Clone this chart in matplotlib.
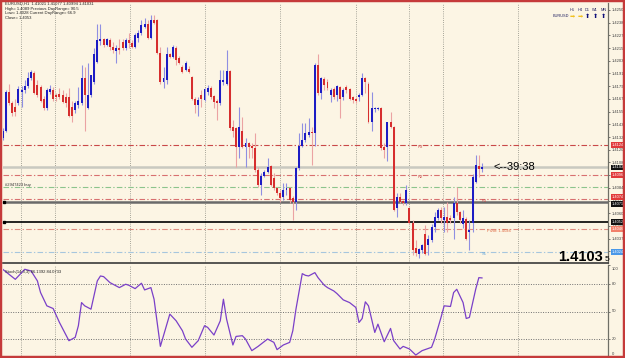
import matplotlib
matplotlib.use("Agg")
import matplotlib.pyplot as plt
from matplotlib.patches import Rectangle
import numpy as np

plt.rcParams['font.family'] = ['Liberation Sans', 'DejaVu Sans']

W, H = 625, 358
BG = '#FCF5E4'

# EURUSD H1 candles, oldest first
opens = [1.4131, 1.4138, 1.4174, 1.4164, 1.4160, 1.4164, 1.4174, 1.4176, 1.4180, 1.4187,
         1.4192, 1.4181, 1.4179, 1.4168, 1.4159, 1.4174, 1.4176, 1.4171, 1.4172, 1.4171,
         1.4169, 1.4169, 1.4160, 1.4157, 1.4162, 1.4164, 1.4187, 1.4159, 1.4171, 1.4183,
         1.4202, 1.4222, 1.4224, 1.4218, 1.4223, 1.4216, 1.4212, 1.4215, 1.4221, 1.4215,
         1.4223, 1.4220, 1.4216, 1.4225, 1.4229, 1.4235, 1.4238, 1.4225, 1.4241, 1.4241,
         1.4211, 1.4183, 1.4185, 1.4210, 1.4207, 1.4215, 1.4206, 1.4197, 1.4195, 1.4196,
         1.4188, 1.4168, 1.4162, 1.4171, 1.4167, 1.4174, 1.4178, 1.4170, 1.4166, 1.4164,
         1.4183, 1.4182, 1.4194, 1.4141, 1.4140, 1.4123, 1.4138, 1.4123, 1.4126, 1.4124,
         1.4122, 1.4101, 1.4087, 1.4096, 1.4099, 1.4105, 1.4094, 1.4084, 1.4080, 1.4076,
         1.4082, 1.4084, 1.4075, 1.4071, 1.4103, 1.4124, 1.4129, 1.4134, 1.4137, 1.4136,
         1.4199, 1.4173, 1.4186, 1.4183, 1.4171, 1.4177, 1.4171, 1.4179, 1.4169, 1.4179,
         1.4177, 1.4169, 1.4168, 1.4169, 1.4171, 1.4187, 1.4182, 1.4146, 1.4158, 1.4158,
         1.4159, 1.4123, 1.4123, 1.4146, 1.4141, 1.4066, 1.4076, 1.4072, 1.4070, 1.4066,
         1.4052, 1.4028, 1.4023, 1.4026, 1.4041, 1.4031, 1.4036, 1.4048, 1.4056, 1.4064,
         1.4054, 1.4057, 1.4056, 1.4056, 1.4070, 1.4062, 1.4051, 1.4055, 1.4043, 1.4052,
         1.4090, 1.4105, 1.4102]
highs = [1.4140, 1.4176, 1.4182, 1.4166, 1.4168, 1.4180, 1.4180, 1.4185, 1.4193, 1.4195,
         1.4194, 1.4185, 1.4181, 1.4170, 1.4178, 1.4181, 1.4179, 1.4173, 1.4178, 1.4176,
         1.4173, 1.4178, 1.4166, 1.4166, 1.4179, 1.4199, 1.4197, 1.4201, 1.4190, 1.4215,
         1.4238, 1.4238, 1.4225, 1.4225, 1.4225, 1.4221, 1.4218, 1.4224, 1.4224, 1.4225,
         1.4229, 1.4223, 1.4229, 1.4232, 1.4241, 1.4243, 1.4241, 1.4246, 1.4246, 1.4242,
         1.4216, 1.4197, 1.4216, 1.4211, 1.4218, 1.4217, 1.4208, 1.4199, 1.4203, 1.4198,
         1.4189, 1.4169, 1.4169, 1.4176, 1.4178, 1.4181, 1.4180, 1.4171, 1.4168, 1.4195,
         1.4195, 1.4213, 1.4195, 1.4148, 1.4141, 1.4160, 1.4151, 1.4131, 1.4127, 1.4126,
         1.4136, 1.4104, 1.4098, 1.4101, 1.4112, 1.4106, 1.4098, 1.4085, 1.4082, 1.4089,
         1.4089, 1.4085, 1.4077, 1.4104, 1.4136, 1.4145, 1.4145, 1.4150, 1.4141, 1.4201,
         1.4210, 1.4188, 1.4188, 1.4186, 1.4178, 1.4179, 1.4181, 1.4180, 1.4178, 1.4181,
         1.4178, 1.4170, 1.4169, 1.4173, 1.4192, 1.4188, 1.4183, 1.4174, 1.4160, 1.4160,
         1.4160, 1.4126, 1.4146, 1.4155, 1.4142, 1.4080, 1.4080, 1.4073, 1.4087, 1.4067,
         1.4054, 1.4036, 1.4028, 1.4032, 1.4050, 1.4040, 1.4051, 1.4062, 1.4066, 1.4067,
         1.4067, 1.4071, 1.4059, 1.4076, 1.4085, 1.4063, 1.4064, 1.4057, 1.4054, 1.4097,
         1.4115, 1.4115, 1.4108]
lows = [1.4129, 1.4137, 1.4162, 1.4152, 1.4152, 1.4162, 1.4160, 1.4173, 1.4178, 1.4185,
        1.4172, 1.4169, 1.4165, 1.4157, 1.4157, 1.4172, 1.4166, 1.4166, 1.4168, 1.4164,
        1.4160, 1.4151, 1.4146, 1.4154, 1.4159, 1.4162, 1.4138, 1.4158, 1.4169, 1.4182,
        1.4201, 1.4218, 1.4216, 1.4217, 1.4213, 1.4211, 1.4201, 1.4210, 1.4213, 1.4213,
        1.4215, 1.4215, 1.4215, 1.4221, 1.4227, 1.4234, 1.4224, 1.4224, 1.4238, 1.4210,
        1.4182, 1.4178, 1.4182, 1.4206, 1.4206, 1.4199, 1.4200, 1.4192, 1.4194, 1.4192,
        1.4167, 1.4154, 1.4152, 1.4160, 1.4166, 1.4171, 1.4168, 1.4159, 1.4148, 1.4162,
        1.4181, 1.4181, 1.4139, 1.4132, 1.4104, 1.4112, 1.4122, 1.4104, 1.4112, 1.4112,
        1.4099, 1.4085, 1.4078, 1.4095, 1.4098, 1.4086, 1.4082, 1.4078, 1.4071, 1.4073,
        1.4078, 1.4070, 1.4054, 1.4064, 1.4101, 1.4123, 1.4127, 1.4132, 1.4106, 1.4124,
        1.4171, 1.4168, 1.4176, 1.4176, 1.4165, 1.4168, 1.4166, 1.4150, 1.4167, 1.4173,
        1.4167, 1.4164, 1.4164, 1.4166, 1.4170, 1.4173, 1.4145, 1.4138, 1.4155, 1.4157,
        1.4120, 1.4112, 1.4110, 1.4140, 1.4063, 1.4057, 1.4070, 1.4068, 1.4068, 1.4051,
        1.4022, 1.4021, 1.4019, 1.4024, 1.4022, 1.4022, 1.4034, 1.4043, 1.4054, 1.4052,
        1.4043, 1.4043, 1.4052, 1.4037, 1.4059, 1.4052, 1.4047, 1.4036, 1.4026, 1.4043,
        1.4089, 1.4095, 1.4099]
closes = [1.4138, 1.4174, 1.4164, 1.4154, 1.4155, 1.4177, 1.4176, 1.4180, 1.4187, 1.4193,
          1.4173, 1.4171, 1.4166, 1.4159, 1.4176, 1.4177, 1.4168, 1.4169, 1.4169, 1.4165,
          1.4164, 1.4152, 1.4152, 1.4164, 1.4166, 1.4187, 1.4171, 1.4171, 1.4190, 1.4210,
          1.4223, 1.4224, 1.4218, 1.4224, 1.4216, 1.4213, 1.4215, 1.4213, 1.4215, 1.4223,
          1.4220, 1.4216, 1.4227, 1.4229, 1.4237, 1.4238, 1.4225, 1.4241, 1.4239, 1.4211,
          1.4183, 1.4187, 1.4210, 1.4207, 1.4216, 1.4204, 1.4201, 1.4193, 1.4201, 1.4193,
          1.4168, 1.4162, 1.4167, 1.4168, 1.4177, 1.4178, 1.4169, 1.4165, 1.4164, 1.4185,
          1.4185, 1.4194, 1.4140, 1.4138, 1.4123, 1.4141, 1.4123, 1.4126, 1.4123, 1.4122,
          1.4101, 1.4087, 1.4096, 1.4099, 1.4104, 1.4087, 1.4084, 1.4080, 1.4075, 1.4082,
          1.4084, 1.4073, 1.4071, 1.4103, 1.4124, 1.4129, 1.4136, 1.4137, 1.4136, 1.4199,
          1.4173, 1.4187, 1.4181, 1.4178, 1.4176, 1.4169, 1.4180, 1.4168, 1.4176, 1.4176,
          1.4168, 1.4167, 1.4166, 1.4171, 1.4187, 1.4183, 1.4146, 1.4159, 1.4159, 1.4159,
          1.4122, 1.4120, 1.4146, 1.4141, 1.4064, 1.4076, 1.4071, 1.4070, 1.4082, 1.4052,
          1.4026, 1.4024, 1.4027, 1.4031, 1.4023, 1.4037, 1.4048, 1.4057, 1.4064, 1.4056,
          1.4057, 1.4052, 1.4054, 1.4070, 1.4062, 1.4054, 1.4056, 1.4037, 1.4045, 1.4095,
          1.4106, 1.4102, 1.41035]

# Stochastic(14,3,3) main line, sampled at these bars
stoch_bar = [0, 4, 7, 9, 11, 12, 14, 16, 18, 21, 23, 24, 25, 26, 28, 30, 31, 32, 34, 36,
             37, 39, 40, 42, 44, 45, 47, 48, 50, 53, 55, 57, 58, 60, 62, 64, 65, 67, 69, 70,
             71, 73, 74, 76, 77, 79, 81, 84, 86, 87, 89, 91, 92, 93, 95, 96, 97, 99, 100, 102,
             103, 105, 106, 108, 110, 112, 113, 114, 115, 116, 118, 119, 121, 123, 124, 126, 127, 129, 131, 133,
             136, 137, 139, 140, 142, 143, 144, 146, 147, 148, 150, 151, 152]
stoch_val = [95.4, 84.6, 95.4, 93.6, 82.9, 70.4, 56.1, 53.2, 38.2, 18.6, 22.2, 34.7, 59.6, 56.1, 52.5, 82.9, 88.2, 87.5, 81.1, 77.5,
             75.7, 79.3, 78.2, 74.6, 80.4, 73.2, 75.7, 63.2, 12.5, 47.2, 40.0, 29.3, 20.4, 11.5, 18.6, 34.7, 32.9, 24.7, 40.0, 63.2,
             41.8, 14.0, 23.2, 24.0, 20.4, 7.9, 12.5, 20.4, 16.8, 9.0, 14.0, 16.8, 29.3, 52.5, 90.7, 88.9, 88.2, 91.8, 86.4, 78.2,
             75.7, 72.1, 69.3, 62.5, 59.6, 54.3, 38.2, 42.5, 60.4, 56.1, 27.5, 36.4, 17.5, 31.8, 18.6, 9.7, 12.5, 9.7, 3.2, 7.9,
             11.5, 20.4, 43.6, 56.1, 55.4, 70.4, 73.9, 59.6, 42.5, 43.6, 73.9, 86.4, 86.1]
stoch_levels = [20, 50, 80]
stoch_ticks = [0, 20, 50, 80, 100]

# pivot levels and other horizontal lines
r3 = 1.41245
r2 = 1.40965
r1 = 1.40741
pivot = 1.40460
s1 = 1.40245
bid = 1.41035
order_price = 1.40853
line_gray = 1.40712
line_black = 1.40525

price_ticks = [1.42508, 1.42389, 1.42270, 1.42151, 1.42032, 1.41914, 1.41795, 1.41676, 1.41558,
               1.41439, 1.41320, 1.41201, 1.41083, 1.40964, 1.40845, 1.40726, 1.40608, 1.40489,
               1.40370, 1.40251]

info_lines = ["EURUSD,H1  1.41021 1.41077 1.40994 1.41031",
              "High= 1.4089 Previous DayRange= 90.5",
              "Low= 1.4028 Current DayRange= 66.9",
              "Close= 1.4053"]
tf_names = ["H1", "H4", "D1", "W1", "MN"]
tf_up = [None, None, True, True, True]   # None = sideways arrow

# day separator grid (bar positions)
vgrid = [5.8, 16.6, 40.4, 64.2, 87.9, 112.0, 128.8, 139.6, 163.4]

fig = plt.figure(figsize=(W / 100, H / 100), dpi=100, facecolor=BG)
ax = fig.add_axes([3 / W, 1 - 263 / H, 605 / W, 260 / H], facecolor=BG)
sub = fig.add_axes([3 / W, 0, 605 / W, 93 / H], facecolor=BG)

o = np.array(opens)
h = np.array(highs)
l = np.array(lows)
c = np.array(closes)
xs = np.arange(len(c))
up = c >= o
body_col = np.where(up, '#1C1CC4', '#D62E2E')
wick_col = np.where(up, '#8F8FE2', '#EBA3A3')

ax.vlines(xs, l, h, colors=wick_col, lw=0.8, zorder=4)
ax.bar(xs, np.maximum(np.abs(c - o), 0.00008), width=0.62, bottom=np.minimum(o, c),
       color=body_col, lw=0, zorder=5)

xlim = (0.095, 191.96)
ax.set_xlim(*xlim)
ax.set_ylim(1.40142, 1.42573)
sub.set_xlim(*xlim)
sub.set_ylim(0, 100)

for gx in vgrid:
    ax.axvline(gx, color='#8a8a80', lw=0.6, ls=(0, (1, 1.6)), zorder=1)
    sub.axvline(gx, color='#8a8a80', lw=0.6, ls=(0, (1, 1.6)), zorder=1)

dashdot = (0, (5, 2, 1.2, 2))
ax.axhline(bid, color='#C9C9C0', lw=1.8, zorder=2)
ax.axhline(r3, color='#C94848', lw=0.8, ls=dashdot, zorder=2)
ax.axhline(r2, color='#D87070', lw=0.8, ls=dashdot, zorder=2)
ax.axhline(order_price, color='#8CC48C', lw=0.8, ls=dashdot, zorder=2)
ax.axhline(r1, color='#D87070', lw=0.8, ls=dashdot, zorder=2)
ax.axhline(line_gray, color='#6A6A6A', lw=1.8, zorder=3)
ax.axhline(line_black, color='#000000', lw=1.2, zorder=3)
ax.axhline(pivot, color='#E08C80', lw=0.8, ls=dashdot, zorder=2)
ax.axhline(s1, color='#A6C6DE', lw=0.8, ls=dashdot, zorder=2)

# drag handles on the two trend lines
ax.plot([0.4, 0.4], [line_gray, line_black], 's', color='black', ms=2, zorder=6, clip_on=False)

ax.text(131.7, r3, "R3", fontsize=3, color='#C84848', va='top', ha='left')
ax.text(131.7, r2, "R2", fontsize=3, color='#C84848', va='top', ha='left')
ax.text(152.0, r1, "R1", fontsize=3, color='#C84848', va='top', ha='left')
ax.text(153.5, pivot, "Pivot: 1.4046", fontsize=3, color='#E0704A', va='top', ha='left')
ax.text(152.0, s1, "S1", fontsize=3, color='#5AA0D8', va='top', ha='left')
ax.text(0.7, order_price, "#2947423 buy", fontsize=3, color='#303030', va='bottom', ha='left')

ax.text(155.5, bid, "<--39:38", fontsize=8, color='black', va='center', ha='left')
ax.text(190.4, 1.40198, "1.4103", fontsize=10.5, fontweight='bold', color='black',
        va='center', ha='right')
ax.text(190.9, 1.40175, "5", fontsize=6, color='black', va='center', ha='left')

# right price axis
ax.yaxis.tick_right()
ax.set_yticks(price_ticks)
ax.set_yticklabels([f"{p:.5f}" for p in price_ticks])
ax.tick_params(axis='y', labelsize=3, length=1.5, pad=1, colors='#404040', width=0.5)
ax.set_xticks([])
for side in ('left', 'top'):
    ax.spines[side].set_visible(False)
ax.spines['right'].set_color('#6F6F66')
ax.spines['right'].set_linewidth(0.9)
ax.spines['bottom'].set_color('#3A3A3A')
ax.spines['bottom'].set_linewidth(1.2)


def price_tag(y, txt, fc, va='center'):
    ax.text(1.006, y, txt, transform=ax.get_yaxis_transform(), fontsize=2.8, color='white',
            ha='left', va=va, clip_on=False, zorder=10,
            bbox=dict(boxstyle='square,pad=0.15', fc=fc, ec='none'))


price_tag(r3, f"{r3:.5f}", '#E23A3A')
price_tag(bid, f"{bid:.5f}", '#111111')
price_tag(r2, f"{r2:.5f}", '#E23A3A')
price_tag(r1, f"{r1:.5f}", '#E23A3A', va='bottom')
price_tag(line_gray, f"{line_gray:.5f}", '#111111', va='top')
price_tag(line_black, f"{line_black:.5f}", '#111111')
price_tag(pivot, f"{pivot:.5f}", '#F2806A')
price_tag(s1, f"{s1:.5f}", '#4A98E8')

# stochastic window
for lv in stoch_levels:
    sub.axhline(lv, color='#707070', lw=0.7, ls=(0, (1, 1.5)), zorder=1)
sub.plot(stoch_bar, stoch_val, color='#7A40C8', lw=0.9, zorder=3)
sub.set_yticks(stoch_ticks)
sub.set_yticklabels([])
sub.tick_params(axis='y', left=False, right=True, length=1.5, width=0.5, colors='#404040')
for t in stoch_ticks:
    ty = min(max(t, 4), 96)
    sub.text(1.006, ty, str(t), transform=sub.get_yaxis_transform(), fontsize=3,
             color='#404040', va='center', ha='left', clip_on=False)
sub.set_xticks([])
for side in ('left', 'bottom', 'top'):
    sub.spines[side].set_visible(False)
sub.spines['right'].set_color('#6F6F66')
sub.spines['right'].set_linewidth(0.9)
sub.text(0.004, 0.95, "Stoch(14,3,3) 86.1392 84.0733", transform=sub.transAxes,
         fontsize=3, color='#202020', va='top', ha='left')

# info text in the upper left corner
for i, line in enumerate(info_lines):
    fig.text(5 / W, 1 - (4 + 4.6 * i) / H, line, fontsize=3, color='#202020', va='center', ha='left')

# trend panel, upper right
fig.text(553 / W, 1 - 16 / H, "EURUSD", fontsize=2.8, color='#202060', va='center', ha='left')
for i, (name, trend) in enumerate(zip(tf_names, tf_up)):
    x = (572 + 7.8 * i) / W
    fig.text(x, 1 - 10 / H, name, fontsize=2.8, color='#202060', va='center', ha='center')
    if trend is None:
        fig.text(x, 1 - 16 / H, "➡", fontsize=4.5, color='#F0C020', va='center', ha='center',
                 family=['DejaVu Sans'])
    else:
        fig.text(x, 1 - 16 / H, "⬆", fontsize=4.5, color='#10107A', va='center', ha='center',
                 family=['DejaVu Sans'])

# red window frame
fig.patches.append(Rectangle((0, 0), 1, 1, transform=fig.transFigure, fill=False,
                             edgecolor='#C53A3A', lw=3.2, zorder=100))

fig.savefig('out.png', dpi=100, facecolor=BG)
